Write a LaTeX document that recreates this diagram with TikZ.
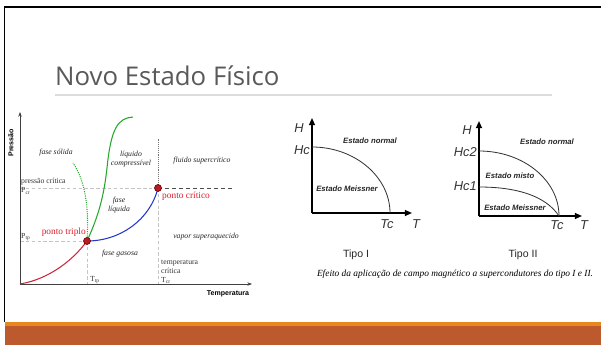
\documentclass[tikz,border=0pt]{standalone}
\usepackage{fontspec}
\setmainfont{Liberation Serif}
\setsansfont{Liberation Sans}
\newfontfamily\slidefont{Open Sans}
\usetikzlibrary{arrows.meta,positioning}
\definecolor{rust}{HTML}{BD5A2D}
\definecolor{amber}{HTML}{E8871C}
\definecolor{hairline}{HTML}{DDDDDD}
\definecolor{titlegray}{HTML}{595959}
\definecolor{guide}{HTML}{C4C4C4}
\definecolor{ptred}{HTML}{D8202A}
\definecolor{solidgreen}{HTML}{25A82A}
\definecolor{vapblue}{HTML}{2436C8}
\definecolor{sublred}{HTML}{C8283A}

\begin{document}
\begin{tikzpicture}[x=0.03cm,y=-0.03cm,
  every node/.style={inner sep=0pt},
  phase/.style={font=\fontsize{6.6}{7.6}\selectfont\itshape,align=center,text=black!85},
  tick/.style={font=\fontsize{6.6}{7.4}\selectfont,align=left,anchor=west,text=black!80},
  redlbl/.style={font=\fontsize{8}{9}\selectfont,text=ptred},
  axlbl/.style={font=\sffamily\bfseries\fontsize{6}{7}\selectfont},
  state/.style={font=\sffamily\bfseries\itshape\fontsize{6.6}{7}\selectfont,text=black!85},
  hval/.style={font=\sffamily\itshape\fontsize{11}{12}\selectfont,text=black!80},
  guideline/.style={guide,densely dashed,line width=0.4pt},
  dot/.style={circle,fill=ptred!85!black,draw=black!60!red,line width=0.5pt,minimum size=6pt},
  pax/.style={black!75,line width=0.6pt,-{Stealth[length=4pt,width=3pt]}},
  hax/.style={line width=1.2pt,-{Triangle[length=6pt,width=5pt]}},
  hcurve/.style={line width=0.7pt,black!80}]
\useasboundingbox (0,0) rectangle (601,345);
% slide frame
\draw[line width=1.6pt] (4.5,322) -- (4.5,7) -- (601,7);
\fill[amber] (5,322) rectangle (601,326);
\fill[rust] (5,326) rectangle (601,345);
\node[anchor=base west,font=\slidefont\fontsize{22}{26}\selectfont,text=titlegray] (title) at (55,86) {Novo Estado Físico};
\draw[hairline,line width=1.2pt] (55,95) -- (552,95);

% phase diagram
\coordinate (o) at (20,284);
\coordinate (tpc) at (87,241);
\coordinate (cpc) at (158,188);
\draw[guideline] (20,188) -- (cpc);
\draw[guideline] (20,241) -- (tpc);
\draw[guideline] (tpc) -- (87,284);
\draw[guideline] (cpc) -- (158,284);
\draw[black!70,dashed,line width=0.6pt] (cpc) -- (235,188);
\draw[black!55,densely dotted,line width=0.6pt] (cpc) -- (158,138);
\draw[pax] (o) -- (20,112);
\draw[pax] (o) -- (252,284);
\draw[sublred,line width=0.9pt] (o) .. controls (50,279) and (74,259) .. (tpc);
\draw[vapblue,line width=0.9pt] (tpc) .. controls (120,241) and (150,220) .. (cpc);
\draw[solidgreen,line width=0.9pt] (tpc) .. controls (99,215) and (104,195) .. (107,168)
  .. controls (111,128) and (118,118) .. (133,117);
\draw[solidgreen,densely dotted,line width=0.9pt] (tpc) .. controls (89,210) and (86,182) .. (73,163);
\node[dot] (tp) at (tpc) {};
\node[dot] (cp) at (cpc) {};
\node[axlbl,rotate=90] (pressao) at (11,143) {Pressão};
\node[axlbl] (temperatura) at (228,294) {Temperatura};
\node[phase] (solida) at (56,153) {fase sólida};
\node[phase] (compress) at (131,159) {líquido\\compressível};
\node[phase] (super) at (202,161) {fluido supercrítico};
\node[tick] (pcrit) at (21,182) {pressão crítica};
\node[tick] (pcr) at (21,191) {P\textsubscript{cr}};
\node[phase] (liquida) at (119,205) {fase\\líquida};
\node[redlbl,anchor=west] (cplbl) at (162,196) {ponto crítico};
\node[redlbl,anchor=east] (tplbl) at (86,232) {ponto triplo};
\node[tick] (ptp) at (21,237) {P\textsubscript{tp}};
\node[phase] (vapor) at (206,237) {vapor superaquecido};
\node[phase] (gasosa) at (120,254) {fase gasosa};
\node[tick] (tcrit) at (161,272) {temperatura\\crítica\\T\textsubscript{cr}};
\node[tick] (ttp) at (90,280) {T\textsubscript{tp}};

% tipo I
\coordinate (o1) at (312,213);
\draw[hax] (o1) -- (312,118);
\draw[hax] (o1) -- (412,213);
\draw[hcurve] (312,147) .. controls (355,147) and (390,177) .. (390,213);
\node[hval] (h1) at (299,128) {H};
\node[hval,anchor=east] (hc) at (310,150) {Hc};
\node[state] (norm1) at (370,141) {Estado normal};
\node[state] (meis1) at (347,189) {Estado Meissner};
\node[hval] (tc1) at (387,224) {Tc};
\node[hval] (t1) at (416,224) {T};
\node[font=\sffamily\fontsize{9}{10}\selectfont,text=black!85] (tipo1) at (356,255) {Tipo I};

% tipo II
\coordinate (o2) at (479,216);
\draw[hax] (o2) -- (479,121);
\draw[hax] (o2) -- (582,216);
\draw[hcurve] (479,151) .. controls (523,151) and (559,180) .. (559,216);
\draw[hcurve] (479,187) .. controls (515,187) and (545,195) .. (559,216);
\node[hval] (h2) at (467,130) {H};
\node[hval,anchor=east] (hc2) at (477,152) {Hc2};
\node[hval,anchor=east] (hc1) at (477,186) {Hc1};
\node[state] (norm2) at (547,142) {Estado normal};
\node[state] (misto) at (510,176) {Estado misto};
\node[state] (meis2) at (515,208) {Estado Meissner};
\node[hval] (tc2) at (557,225) {Tc};
\node[hval] (t2) at (584,225) {T};
\node[font=\sffamily\fontsize{9}{10}\selectfont,text=black!85] (tipo2) at (523,255) {Tipo II};
\node[font=\itshape\fontsize{8}{9}\selectfont] (caption) at (455,274) {Efeito da aplicação de campo magnético a supercondutores do tipo I e II.};
\end{tikzpicture}
\end{document}
